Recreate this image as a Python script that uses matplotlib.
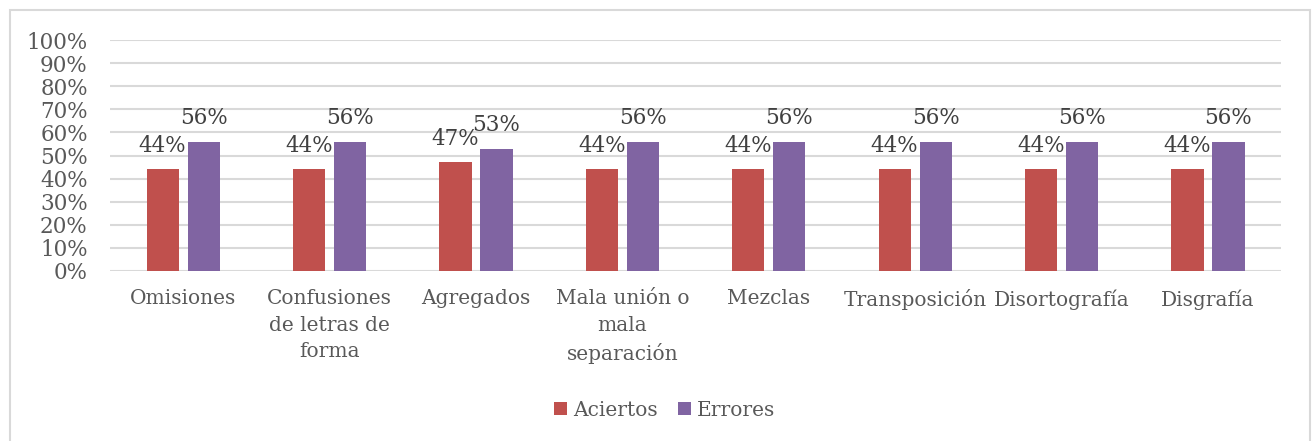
import matplotlib.pyplot as plt
import numpy as np
from matplotlib.patches import Rectangle

categories = ['Omisiones', 'Confusiones\nde letras de\nforma', 'Agregados',
              'Mala unión o\nmala\nseparación', 'Mezclas', 'Transposición',
              'Disortografía', 'Disgrafía']
aciertos = [44, 44, 47, 44, 44, 44, 44, 44]
errores = [56, 56, 53, 56, 56, 56, 56, 56]

plt.rcParams['font.family'] = ['DejaVu Serif']
text_col = '#595959'

fig = plt.figure(figsize=(13.14, 4.41), dpi=100)
ax = fig.add_axes([0.0837, 0.3855, 0.8913, 0.5235])

# chart border
fig.patches.append(Rectangle((10 / 1314, -0.05), 1300 / 1314, 1.05 - 10 / 441,
                             transform=fig.transFigure, fill=False,
                             edgecolor='#D9D9D9', linewidth=1.5))

x = np.arange(len(categories))
w = 0.22
off = 0.14
b1 = ax.bar(x - off, aciertos, w, color='#C0504D', label='Aciertos', zorder=3)
b2 = ax.bar(x + off, errores, w, color='#8064A2', label='Errores', zorder=3)

for bars, vals in ((b1, aciertos), (b2, errores)):
    for r, v in zip(bars, vals):
        ax.annotate('{0}%'.format(v), (r.get_x() + r.get_width() / 2, v),
                    xytext=(0, 9), textcoords='offset points',
                    ha='center', va='bottom', fontsize=15.5, color='#404040')

ax.set_xlim(-0.5, len(categories) - 0.5)
ax.set_ylim(0, 100)
ax.set_yticks(range(0, 101, 10))
ax.set_yticklabels(['{0}%'.format(t) for t in range(0, 101, 10)])
ax.set_xticks(x)
ax.set_xticklabels(categories, linespacing=1.5)
ax.tick_params(axis='y', length=0, pad=16, labelsize=15.5, labelcolor=text_col)
ax.tick_params(axis='x', length=0, pad=13, labelsize=14.5, labelcolor=text_col)
ax.grid(axis='y', color='#D9D9D9', linewidth=1.5, zorder=0)
for s in ax.spines.values():
    s.set_visible(False)

fig.legend(loc='center', bbox_to_anchor=(0.506, 1 - 410 / 441), ncol=2,
           frameon=False, fontsize=14.5, handlelength=0.65, handleheight=0.65,
           handletextpad=0.3, columnspacing=1.0, labelcolor=text_col)

fig.savefig('out.png', dpi=100)
